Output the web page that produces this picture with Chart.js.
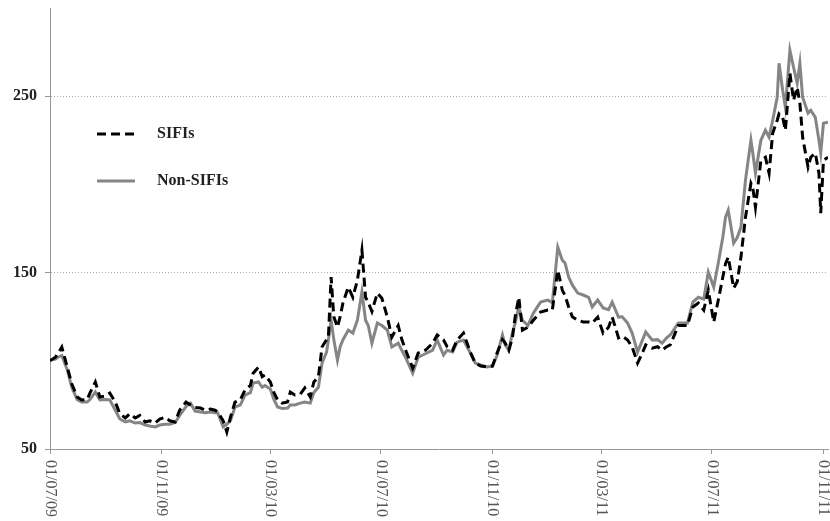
<!DOCTYPE html>
<html>
<head>
<meta charset="utf-8">
<script src="https://cdn.jsdelivr.net/npm/chart.js@4.4.1/dist/chart.umd.min.js"></script>
<style>
html, body { margin: 0; padding: 0; background: #fff; }
#wrap { width: 830px; height: 521px; }
</style>
</head>
<body>
<div id="wrap"><canvas id="line-chart"></canvas></div>
<script>
// days since 01/07/09
var days = [
    0, 6, 9, 13, 19, 24, 30, 35, 41, 44,
    50, 55, 61, 66, 72, 77, 83, 88, 94, 99,
    105, 110, 116, 121, 127, 132, 138, 143, 150, 155,
    160, 166, 171, 177, 182, 185, 191, 195, 199, 204,
    210, 215, 221, 224, 230, 234, 237, 243, 247, 251,
    256, 262, 265, 270, 276, 281, 287, 291, 296, 300,
    305, 307, 310, 313, 317, 320, 323, 329, 334, 339,
    344, 348, 351, 355, 361, 366, 372, 377, 384, 388,
    393, 400, 406, 414, 422, 427, 434, 438, 444, 449,
    456, 464, 469, 475, 482, 488, 493, 499, 502, 506,
    510, 513, 517, 521, 527, 533, 541, 549, 554, 560,
    565, 568, 572, 576, 582, 588, 594, 598, 604, 610,
    616, 620, 627, 631, 637, 642, 648, 652, 657, 664,
    670, 675, 680, 684, 693, 703, 709, 715, 721, 726,
    732, 737, 742, 745, 748, 754, 758, 762, 767, 773,
    775, 778, 784, 789, 793, 797, 802, 804, 808, 811,
    816, 820, 824, 827, 830, 836, 839, 844, 848, 850,
    853, 858
];

var sifis = [
    100, 102, 104.4, 107.8, 96.5, 87, 79.5, 77.8, 78, 81.7,
    88, 79.5, 80, 81.7, 76.6, 70, 67.6, 70, 67.6, 69,
    65.3, 66, 64.7, 67, 68, 66, 65.3, 72, 76.6, 75,
    73.5, 73.2, 72, 72.7, 72, 71, 66, 59.6, 68, 76.6,
    78, 83.4, 86, 93, 96.5, 91, 92, 88, 82, 77.8,
    76, 76.6, 82.3, 80.6, 81, 84.6, 79.5, 88, 91, 107.8,
    112, 113, 147.5, 125, 119, 125, 132.7, 141.8, 136, 145.7,
    162.7, 136, 133, 128, 138.4, 135.5, 124.8, 113.5, 120, 112,
    105, 95.9, 104.4, 106, 110, 114.6, 111.8, 108, 106, 111.8,
    115.7, 104.4, 98.7, 97, 96.5, 97, 104.4, 112, 110, 106,
    113, 125, 136, 117.4, 119, 123, 127.6, 128.8, 128.8, 151.4,
    140, 137, 130.5, 125, 123, 122, 122, 121.4, 124.8, 115.7,
    119, 124.8, 113, 114, 111.8, 107.8, 98.7, 103, 109, 107.2,
    108, 106, 108, 109, 120, 120, 130.5, 132.7, 128.8, 140,
    122, 134.4, 147.5, 155, 158.8, 141.2, 145, 158.8, 181.4, 200.7,
    198.4, 187, 213.7, 215.4, 206.4, 229, 236.4, 240, 238, 230.7,
    263, 247.7, 255, 246, 226.8, 209.8, 215.4, 217.7, 206.4, 183.7,
    213.7, 215.4
];

var nonSifis = [
    100.4, 101, 102, 103, 95, 85, 78, 76.6, 76.6, 78,
    82.3, 77.8, 78, 77.8, 72, 67, 65.3, 66, 64.7, 65,
    63.6, 63, 62.5, 63.6, 64, 64, 65, 69, 74, 76,
    71.5, 71, 70.5, 71, 70.5, 70.4, 62.5, 64, 66, 73.8,
    75, 80.6, 82, 87.4, 88, 85, 86, 84, 78, 73.8,
    73, 73.2, 75, 75, 76, 76.6, 76, 82, 85, 98.7,
    105, 111.8, 123, 112, 100.4, 108, 111.8, 117.4, 115.7, 123,
    139, 123, 120, 110, 121.4, 120, 117.4, 107.8, 110, 106,
    101, 93, 102, 104, 106, 111.8, 103.3, 106, 105, 110.6,
    111.8, 104, 98.7, 97.6, 96.5, 97, 103, 114.6, 109, 106,
    116, 121.4, 130.5, 123, 120, 127, 133.3, 134.4, 133, 164.4,
    157, 155.4, 147.5, 143, 138.4, 137.3, 136, 130.5, 134.4, 130,
    129, 133.3, 124.8, 125, 121.4, 115.7, 105, 110, 116.3, 111.8,
    112, 110, 113, 114.6, 121.4, 121.4, 133.3, 136, 135, 150.3,
    141.8, 155.4, 170, 181.4, 185.4, 166.7, 170, 175.8, 202.4, 225,
    218, 206.4, 225, 230.7, 226.8, 236.4, 249.4, 268.7, 253.4, 243.8,
    276, 266.4, 257.4, 268.7, 249.4, 240.4, 242, 238, 225, 217.7,
    234.7, 235.3
];

var tickDays = [0, 123, 243, 365, 488, 608, 730, 853];
var tickLabels = ["01/07/09", "01/11/09", "01/03/10", "01/07/10", "01/11/10", "01/03/11", "01/07/11", "01/11/11"];
var yTicks = [50, 150, 250];
var seriesNames = ["SIFIs", "Non-SIFIs"];

var serif = "'Liberation Serif', 'DejaVu Serif', serif";

function toPoints(values) {
    return values.map(function (v, i) { return { x: days[i], y: v }; });
}

// x labels read top to bottom, so draw them ourselves
var xLabelPlugin = {
    id: "xLabels",
    afterDraw: function (chart) {
        var ctx = chart.ctx;
        var xs = chart.scales.x;
        var top = chart.chartArea.bottom + 11;
        ctx.save();
        ctx.font = "16px " + serif;
        ctx.fillStyle = "#555";
        ctx.textAlign = "left";
        ctx.textBaseline = "middle";
        tickDays.forEach(function (d, i) {
            ctx.save();
            ctx.translate(xs.getPixelForValue(d), top);
            ctx.rotate(Math.PI / 2);
            ctx.fillText(tickLabels[i], 0, 0);
            ctx.restore();
        });
        ctx.restore();
    }
};

// legend sits inside the plot
var legendPlugin = {
    id: "innerLegend",
    afterDraw: function (chart) {
        var ctx = chart.ctx;
        var rows = [134, 181];
        ctx.save();
        chart.data.datasets.forEach(function (ds, i) {
            ctx.beginPath();
            ctx.setLineDash(ds.borderDash || []);
            ctx.lineWidth = ds.borderWidth;
            ctx.strokeStyle = ds.borderColor;
            ctx.moveTo(97, rows[i]);
            ctx.lineTo(135, rows[i]);
            ctx.stroke();
            ctx.setLineDash([]);
            ctx.font = "bold 16px " + serif;
            ctx.fillStyle = "#222";
            ctx.textBaseline = "middle";
            ctx.fillText(ds.label, 157, rows[i]);
        });
        ctx.restore();
    }
};

var config = {
    type: "line",
    data: {
        datasets: [{
            label: seriesNames[0],
            data: toPoints(sifis),
            borderColor: "#000",
            borderWidth: 3,
            borderDash: [9, 5],
            pointRadius: 0,
            tension: 0
        }, {
            label: seriesNames[1],
            data: toPoints(nonSifis),
            borderColor: "#858585",
            borderWidth: 3,
            pointRadius: 0,
            tension: 0
        }]
    },
    options: {
        responsive: true,
        maintainAspectRatio: false,
        animation: false,
        layout: { padding: { top: 8, right: 2, left: 0, bottom: 0 } },
        plugins: {
            legend: { display: false },
            tooltip: { enabled: false }
        },
        scales: {
            x: {
                type: "linear",
                min: 0,
                max: 858,
                afterBuildTicks: function (s) {
                    s.ticks = tickDays.map(function (v) { return { value: v }; });
                },
                afterFit: function (s) { s.height = 72; s.paddingLeft = 0; s.paddingRight = 0; },
                ticks: { display: false },
                grid: { drawOnChartArea: false, drawTicks: true, tickLength: 5, color: "#999" },
                border: { color: "#999", width: 1 }
            },
            y: {
                min: 50,
                max: 300,
                afterBuildTicks: function (s) {
                    s.ticks = yTicks.map(function (v) { return { value: v }; });
                },
                afterFit: function (s) { s.width = 50; s.paddingTop = 0; s.paddingBottom = 0; },
                ticks: {
                    padding: 8,
                    color: "#222",
                    font: { family: serif, size: 16, weight: "bold" }
                },
                grid: {
                    tickLength: 5,
                    lineWidth: 1,
                    color: function (c) { return c.tick && c.tick.value === 50 ? "rgba(0,0,0,0)" : "#aaa"; },
                    tickColor: "#999"
                },
                border: { color: "#999", width: 1, dash: [1, 2] }
            }
        }
    },
    plugins: [xLabelPlugin, legendPlugin]
};

var lineChart = new Chart(document.getElementById("line-chart"), config);
</script>
</body>
</html>
